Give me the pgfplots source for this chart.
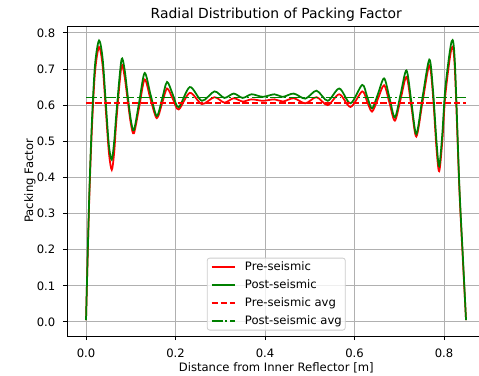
\documentclass[border=0pt]{standalone}
\usepackage{pgfplots}
\usepackage{pgfplotstable}
\pgfplotsset{compat=1.18}
\usepackage{fontspec}
\setmainfont{DejaVu Sans}
\definecolor{mplgreen}{HTML}{008000}
\definecolor{mplred}{HTML}{FF0000}
\definecolor{gridgray}{HTML}{B0B0B0}
\definecolor{legedge}{HTML}{CCCCCC}

\pgfplotstableread{
x pre post
0.000 0.005 0.005
0.007 0.33 0.34
0.013 0.53 0.55
0.020 0.69 0.71
0.029 0.761 0.779
0.037 0.71 0.73
0.044 0.59 0.61
0.051 0.47 0.49
0.0575 0.421 0.449
0.063 0.47 0.50
0.068 0.56 0.58
0.079 0.706 0.724
0.086 0.68 0.70
0.093 0.614 0.628
0.100 0.55 0.56
0.107 0.522 0.531
0.119 0.596 0.610
0.131 0.671 0.689
0.144 0.617 0.630
0.158 0.564 0.570
0.170 0.605 0.617
0.181 0.646 0.664
0.194 0.617 0.629
0.207 0.588 0.594
0.232 0.634 0.650
0.259 0.603 0.612
0.287 0.622 0.638
0.309 0.607 0.620
0.330 0.619 0.632
0.350 0.610 0.620
0.370 0.616 0.630
0.395 0.612 0.623
0.421 0.616 0.630
0.440 0.610 0.623
0.464 0.619 0.632
0.490 0.605 0.618
0.515 0.622 0.640
0.540 0.600 0.612
0.566 0.630 0.646
0.591 0.595 0.605
0.617 0.638 0.656
0.628 0.610 0.624
0.639 0.582 0.591
0.652 0.617 0.630
0.666 0.655 0.674
0.678 0.606 0.620
0.690 0.557 0.566
0.703 0.617 0.631
0.716 0.678 0.696
0.727 0.595 0.608
0.738 0.513 0.520
0.752 0.61 0.623
0.767 0.710 0.726
0.775 0.63 0.645
0.783 0.48 0.50
0.789 0.417 0.431
0.796 0.50 0.52
0.803 0.63 0.65
0.817 0.759 0.777
0.824 0.70 0.72
0.834 0.37 0.38
0.842 0.17 0.18
0.849 0.005 0.005
}\datatable

\begin{document}
\begin{tikzpicture}
\begin{axis}[
  at={(0,0)}, anchor=south west,
  scale only axis,
  width=418.5bp, height=310bp,
  xmin=-0.0425, xmax=0.8925, ymin=-0.039, ymax=0.819,
  xtick={0,0.2,0.4,0.6,0.8},
  xticklabels={0.0,0.2,0.4,0.6,0.8},
  ytick={0,0.1,0.2,0.3,0.4,0.5,0.6,0.7,0.8},
  yticklabels={0.0,0.1,0.2,0.3,0.4,0.5,0.6,0.7,0.8},
  xtick pos=lower, ytick pos=left,
  tick align=outside,
  major tick length=4bp,
  every tick/.style={black, line width=0.93bp},
  axis line style={black, line width=0.93bp},
  grid=major,
  major grid style={gridgray, line width=0.93bp},
  tick label style={font=\fontsize{11.6bp}{13bp}\selectfont},
  yticklabel style={inner sep=0pt, xshift=-7.5bp},
  xticklabel style={inner sep=0pt, yshift=-8.5bp},
  label style={font=\fontsize{11.6bp}{13bp}\selectfont},
  xlabel={Distance from Inner Reflector [m]},
  xlabel style={at={(axis description cs:0.5,0)}, anchor=base, yshift=-35bp, inner sep=0pt},
  title={Radial Distribution of Packing Factor},
  title style={at={(axis description cs:0.5,1)}, anchor=base, yshift=1.7bp, inner sep=0pt, font=\fontsize{13.9bp}{16bp}\selectfont},
  legend cell align=left,
  legend image code/.code={\draw[#1] (0bp,0bp) -- (23.5bp,0bp);},
  legend style={at={(0.5,0)}, anchor=south, yshift=5.5bp,
    draw=legedge, line width=0.8bp, rounded corners=2.5bp, fill=white, fill opacity=0.8, text opacity=1,
    font=\fontsize{11.6bp}{13bp}\selectfont,
    inner xsep=3.5bp, inner ysep=3.5bp,
    row sep=7bp, column sep=9bp,
    nodes={inner sep=0pt, text height=8.5bp, text depth=2.5bp}},
]
\addplot[mplred, line width=1.74bp, smooth, tension=0.5] table[x=x, y=pre] {\datatable};
\addlegendentry{Pre-seismic}
\addplot[mplgreen, line width=1.74bp, smooth, tension=0.5] table[x=x, y=post] {\datatable};
\addlegendentry{Post-seismic}
\addplot[mplred, line width=1.74bp, dash pattern=on 6.4bp off 2.8bp] coordinates {(0,0.606) (0.849,0.606)};
\addlegendentry{Pre-seismic avg}
\addplot[mplgreen, line width=1.74bp, dash pattern=on 11.1bp off 2.8bp on 1.74bp off 2.8bp] coordinates {(0,0.621) (0.849,0.621)};
\addlegendentry{Post-seismic avg}
\end{axis}
\node[rotate=90, anchor=base, inner sep=0pt, font=\fontsize{11.6bp}{13bp}\selectfont] at (-34bp,155bp) {Packing Factor};
\pgfresetboundingbox
\useasboundingbox (-67bp,-40bp) rectangle (412bp,336bp);
\end{tikzpicture}
\end{document}
